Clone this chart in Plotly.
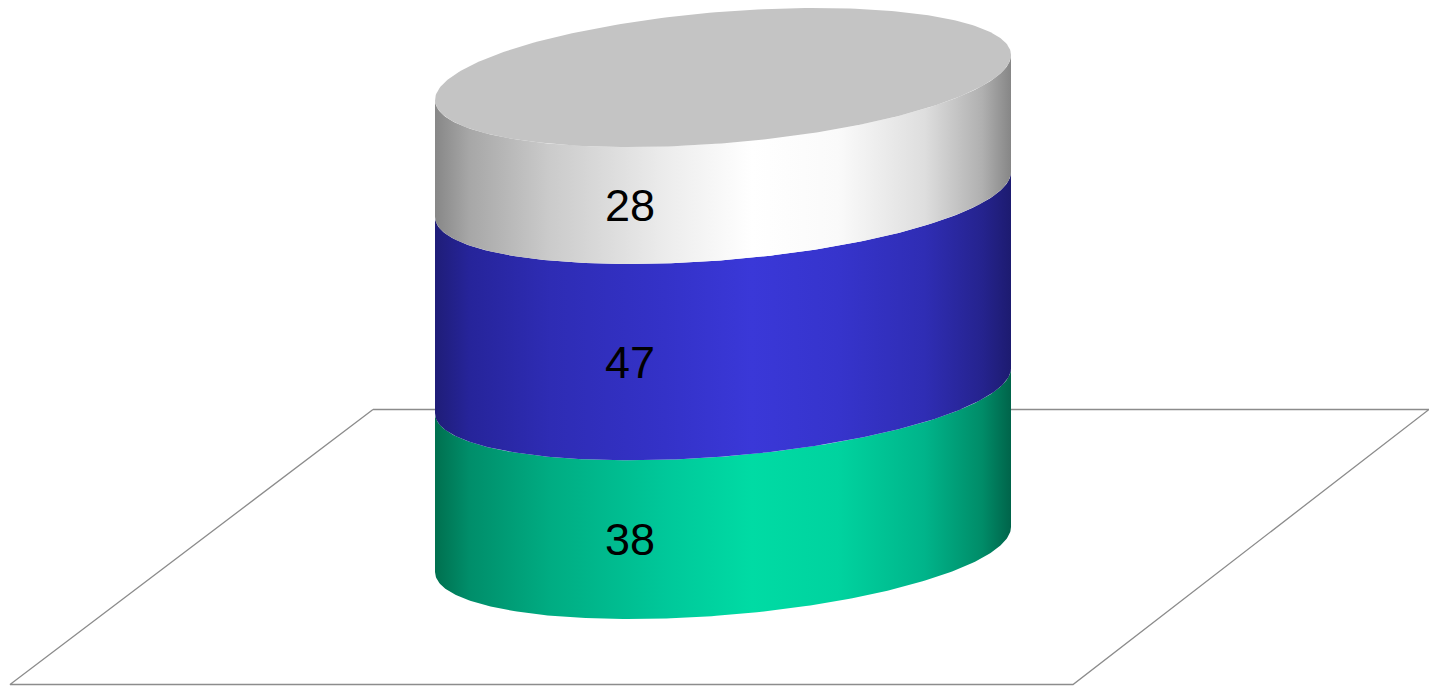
import numpy as np
import plotly.graph_objects as go

# ---- data ----
categories = ["Series 1", "Series 2", "Series 3"]   # bottom -> top
values = [38, 47, 28]
labels = ["38", "47", "28"]
gradients = [
    [[0, "#00704f"], [0.06, "#008e6a"], [0.2, "#00ac82"], [0.4, "#00c89a"],
     [0.55, "#00dba4"], [0.7, "#00d39f"], [0.85, "#00b48a"], [0.95, "#008c68"],
     [1, "#00644a"]],
    [[0, "#1f1d78"], [0.06, "#26249a"], [0.2, "#2e2cb4"], [0.4, "#3432c8"],
     [0.55, "#3a38d8"], [0.7, "#3634cc"], [0.85, "#2f2db4"], [0.95, "#25238e"],
     [1, "#1d1b70"]],
    [[0, "#878787"], [0.06, "#a7a7a7"], [0.2, "#cbcbcb"], [0.4, "#ececec"],
     [0.55, "#ffffff"], [0.7, "#fafafa"], [0.85, "#dedede"], [0.95, "#b0b0b0"],
     [1, "#868686"]],
]
top_color = "#c4c4c4"

# ---- geometry (x in pixels, y in value units) ----
W, H = 1429, 686
S = 4.177                    # pixels per value unit
base_py = 549.5              # pixel row of base-ellipse centre
cx, R = 723.0, 288.0
kv = 22.5 / S                # right side rise
hv = 65.8 / S                # ellipse depth
ymin = -(H - base_py) / S
ymax = base_py / S


def py2v(py):
    return (base_py - py) / S


fig = go.Figure()

# floor parallelogram
floor_px = [(373, 409.5), (1429, 409.5), (1073, 684.5), (10, 684.5), (373, 409.5)]
fig.add_trace(go.Scatter(
    x=[p[0] for p in floor_px], y=[py2v(p[1]) for p in floor_px],
    mode="lines", line=dict(color="#8c8c8c", width=1.3),
    fill="toself", fillcolor="white", hoverinfo="skip", showlegend=False))

t_front = np.linspace(np.pi, 2 * np.pi, 200)
cum = np.concatenate([[0], np.cumsum(values)])

for i, v in enumerate(values):
    y0, y1 = cum[i], cum[i + 1]
    xb = cx + R * np.cos(t_front)
    yb = y0 + hv * np.sin(t_front) + kv * np.cos(t_front)
    yt = y1 + hv * np.sin(t_front) + kv * np.cos(t_front)
    xs = np.concatenate([xb, xb[::-1]])
    ys = np.concatenate([yb, yt[::-1]])
    fig.add_trace(go.Scatter(
        x=xs, y=ys, mode="lines", line=dict(width=0),
        fill="toself",
        fillgradient=dict(type="horizontal", colorscale=gradients[i]),
        hoverinfo="skip", showlegend=False, name=categories[i]))

# top face
t_all = np.linspace(0, 2 * np.pi, 300)
top = cum[-1]
fig.add_trace(go.Scatter(
    x=cx + R * np.cos(t_all),
    y=top + hv * np.sin(t_all) + kv * np.cos(t_all),
    mode="lines", line=dict(width=0), fill="toself", fillcolor=top_color,
    hoverinfo="skip", showlegend=False))

# labels at the front-most point of each band's mid ellipse
t_low = np.pi + np.arctan2(hv, kv)
lx = cx + R * np.cos(t_low)
for i, v in enumerate(values):
    mid = (cum[i] + cum[i + 1]) / 2
    ly = mid + hv * np.sin(t_low) + kv * np.cos(t_low)
    fig.add_annotation(x=lx, y=ly, text=labels[i], showarrow=False,
                       font=dict(family="Liberation Sans, Arial", size=45, color="black"))

fig.update_layout(
    width=W, height=H, margin=dict(l=0, r=0, t=0, b=0),
    paper_bgcolor="white", plot_bgcolor="white",
    xaxis=dict(range=[0, W], visible=False, fixedrange=True),
    yaxis=dict(range=[ymin, ymax], visible=False, fixedrange=True),
    showlegend=False,
)

fig.write_html("out.html")
